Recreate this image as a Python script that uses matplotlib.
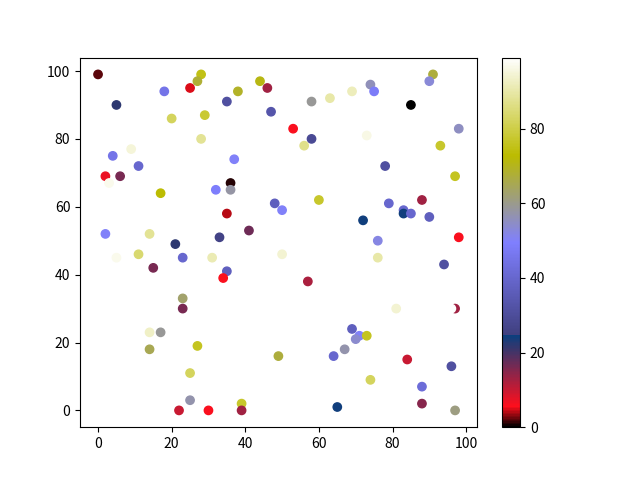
import matplotlib
matplotlib.use("Agg")
import matplotlib.pyplot as plt

plt.rcParams['font.family'] = ['Noto Sans CJK SC', 'DejaVu Sans']
plt.rcParams['axes.unicode_minus'] = False

x = [0, 28, 27, 18, 25, 44, 46, 38, 5, 35, 47, 20, 29, 28, 9, 4, 11, 37, 2, 6,
     3, 36, 36, 17, 32, 48, 50, 35, 41, 2, 14, 21, 33,
     91, 90, 74, 75, 69, 63, 58, 85, 53, 98, 58, 56, 73, 93, 78, 97, 60, 79, 88,
     83, 83, 85, 90, 72, 98, 76,
     5, 11, 15, 23, 31, 50, 35, 34, 23, 23, 14, 17, 14, 27, 49, 25, 25, 22, 30,
     39, 39,
     76, 94, 57, 81, 97, 96, 69, 71, 70, 73, 67, 64, 84, 96, 74, 88, 65, 88, 97]
y = [99, 99, 97, 94, 95, 97, 95, 94, 90, 91, 88, 86, 87, 80, 77, 75, 72, 74, 69, 69,
     67, 67, 65, 64, 65, 61, 59, 58, 53, 52, 52, 49, 51,
     99, 97, 96, 94, 94, 92, 91, 90, 83, 83, 80, 78, 81, 78, 72, 69, 62, 61, 62,
     59, 58, 58, 57, 56, 51, 50,
     45, 46, 42, 45, 45, 46, 41, 39, 33, 30, 23, 23, 18, 19, 16, 11, 3, 0, 0,
     2, 0,
     45, 43, 38, 30, 30, 30, 24, 22, 21, 22, 18, 16, 15, 13, 9, 7, 1, 2, 0]
c = [2, 75, 68, 45, 5, 71, 13, 69, 22, 31, 33, 82, 78, 88, 95, 45, 40, 50, 7, 16,
     97, 1, 58, 73, 49, 37, 50, 4, 17, 50, 88, 22, 26,
     67, 53, 56, 48, 92, 90, 59, 0, 6, 55, 29, 87, 96, 77, 31, 76, 77, 40, 13,
     40, 24, 40, 37, 24, 6, 52,
     97, 84, 16, 40, 91, 94, 37, 6, 63, 16, 93, 59, 65, 76, 67, 82, 57, 10, 6,
     77, 13,
     90, 31, 12, 94, 13, 99, 37, 50, 54, 76, 57, 40, 10, 31, 82, 42, 24, 15, 61]

fig = plt.figure(figsize=(6.4, 4.8), dpi=100)
sc = plt.scatter(x, y, c=c, cmap='gist_stern')
plt.colorbar(sc)
fig.savefig('out.png')
